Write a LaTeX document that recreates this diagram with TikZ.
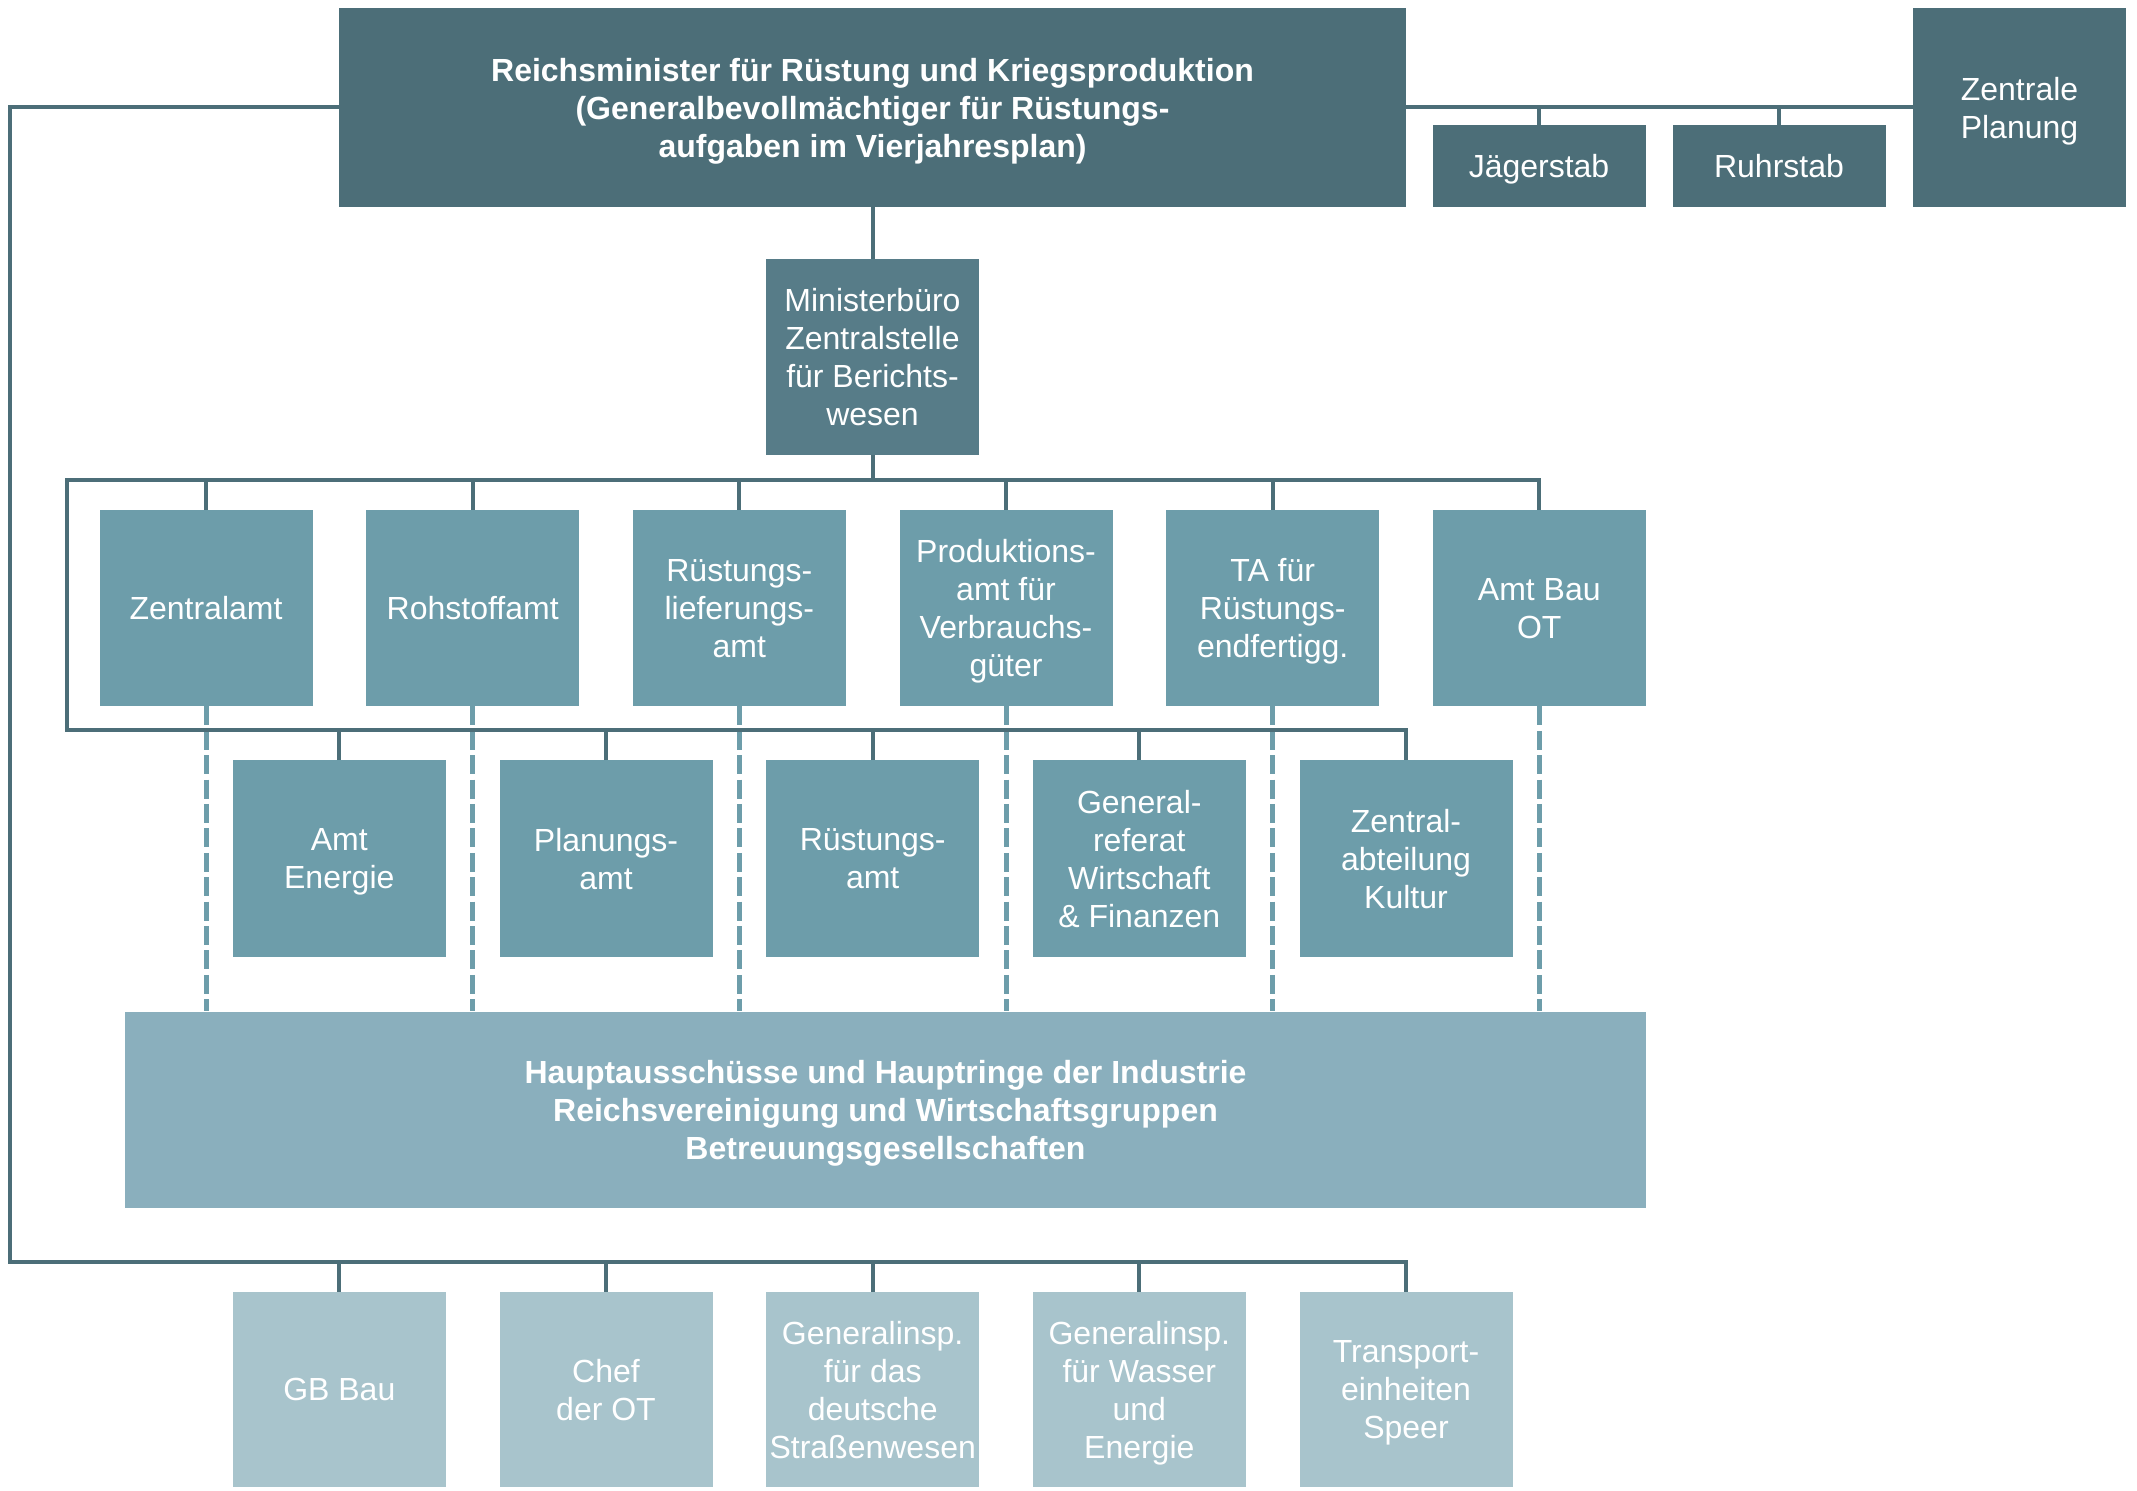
\documentclass[tikz,border=0pt]{standalone}
\usepackage{fontspec}
\setmainfont{Liberation Sans}
\definecolor{cdark}{HTML}{4C6E78}
\definecolor{cmb}{HTML}{577C88}
\definecolor{cmid}{HTML}{6D9DAA}
\definecolor{cbig}{HTML}{8AAFBD}
\definecolor{clight}{HTML}{A8C4CC}
\tikzset{
  box/.style={rectangle, inner sep=0pt, text=white, align=center, text depth=0pt,
    font=\fontsize{16}{19}\selectfont, minimum width=106.5pt, minimum height=98pt},
  topbox/.style={box, fill=cdark},
  midbox/.style={box, fill=cmid},
  lowbox/.style={box, fill=clight, minimum height=97.5pt},
  conn/.style={draw=cdark, line width=2pt},
  dsh/.style={draw=cmid, line width=2.5pt, dash pattern=on 9.5pt off 2.7pt}
}
\begin{document}
\begin{tikzpicture}[x=0.5pt, y=-0.5pt]
\useasboundingbox (0,0) rectangle (2137,1491);
% top row
\node[topbox, minimum width=533.5pt, minimum height=99.5pt, font=\fontsize{16}{19}\selectfont\bfseries] (top) at (872.5,107.5)
  {Reichsminister für Rüstung und Kriegsproduktion\\(Generalbevollmächtiger für Rüstungs-\\aufgaben im Vierjahresplan)};
\node[topbox, minimum height=41pt] (jag) at (1539,166) {Jägerstab};
\node[topbox, minimum height=41pt] (ruhr) at (1779,166) {Ruhrstab};
\node[topbox, minimum height=99.5pt] (zp) at (2019.5,107.5) {Zentrale\\Planung};
% Ministerbuero
\node[box, fill=cmb] (mb) at (872.5,357) {Ministerbüro\\Zentralstelle\\für Berichts-\\wesen};
% row 1
\node[midbox] (r1a) at (206,608) {Zentralamt};
\node[midbox] (r1b) at (472.7,608) {Rohstoffamt};
\node[midbox] (r1c) at (739.3,608) {Rüstungs-\\lieferungs-\\amt};
\node[midbox] (r1d) at (1006,608) {Produktions-\\amt für\\Verbrauchs-\\güter};
\node[midbox] (r1e) at (1272.7,608) {TA für\\Rüstungs-\\endfertigg.};
\node[midbox] (r1f) at (1539.3,608) {Amt Bau\\OT};
% row 2
\node[midbox] (r2a) at (339.3,858.5) {Amt\\Energie};
\node[midbox] (r2b) at (606,858.5) {Planungs-\\amt};
\node[midbox] (r2c) at (872.7,858.5) {Rüstungs-\\amt};
\node[midbox] (r2d) at (1139.3,858.5) {General-\\referat\\Wirtschaft\\\& Finanzen};
\node[midbox] (r2e) at (1406,858.5) {Zentral-\\abteilung\\Kultur};
% big box
\node[box, fill=cbig, minimum width=760.5pt, font=\fontsize{16}{19}\selectfont\bfseries] (big) at (885.5,1109.5)
  {Hauptausschüsse und Hauptringe der Industrie\\Reichsvereinigung und Wirtschaftsgruppen\\Betreuungsgesellschaften};
% row 3
\node[lowbox] (r3a) at (339.3,1389.5) {GB Bau};
\node[lowbox] (r3b) at (606,1389.5) {Chef\\der OT};
\node[lowbox] (r3c) at (872.7,1389.5) {Generalinsp.\\für das\\deutsche\\Straßenwesen};
\node[lowbox] (r3d) at (1139.3,1389.5) {Generalinsp.\\für Wasser\\und\\Energie};
\node[lowbox] (r3e) at (1406,1389.5) {Transport-\\einheiten\\Speer};
% coordinates
\coordinate (busT) at (67,480);
\coordinate (busB) at (67,730);
\coordinate (Lbot) at (10,1262);
% dashed connectors
\foreach \n in {r1a,r1b,r1c,r1d,r1e,r1f}
  \draw[dsh] (\n.south) -- (\n.south |- big.north);
% solid connectors
\draw[conn] (top.east) -- (zp.west);
\draw[conn] (jag.north) -- (jag.north |- top.east);
\draw[conn] (ruhr.north) -- (ruhr.north |- top.east);
\draw[conn] (top.south) -- (mb.north);
\draw[conn] (mb.south) -- (mb.south |- busT);
\draw[conn] (r1f.north) |- (busT) -- (busB) -| (r2e.north);
\foreach \n in {r1a,r1b,r1c,r1d,r1e}
  \draw[conn] (\n.north) -- (\n.north |- busT);
\foreach \n in {r2a,r2b,r2c,r2d}
  \draw[conn] (\n.north) -- (\n.north |- busB);
\draw[conn] (top.west) -| (Lbot) -| (r3e.north);
\foreach \n in {r3a,r3b,r3c,r3d}
  \draw[conn] (\n.north) -- (\n.north |- Lbot);
\end{tikzpicture}
\end{document}
